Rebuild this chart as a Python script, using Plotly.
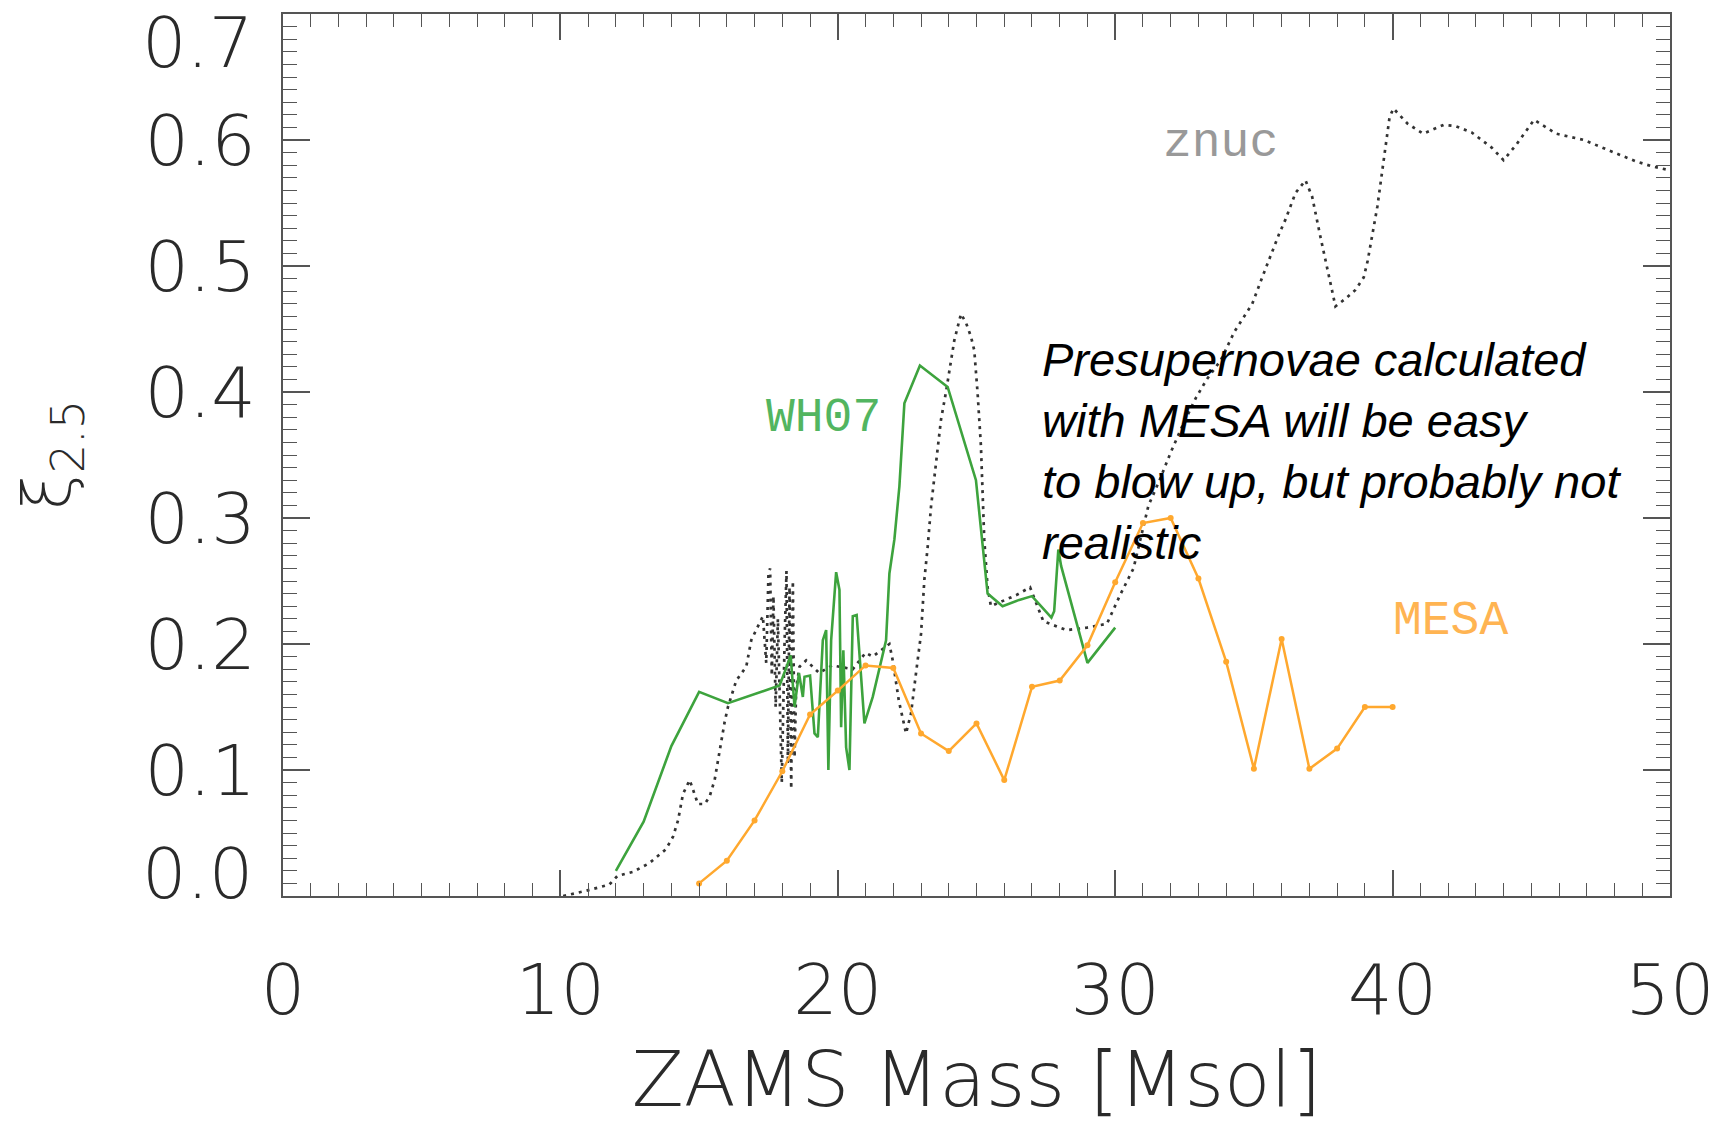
import plotly.graph_objects as go

# ---------------- data ----------------
mesa_mass = [15, 16, 17, 18, 19, 20, 21, 22, 23, 24, 25, 26, 27, 28, 29, 30,
             31, 32, 33, 34, 35, 36, 37, 38, 39, 40]
mesa_xi = [0.010, 0.028, 0.060, 0.099, 0.144, 0.163, 0.183, 0.181, 0.129, 0.115,
           0.137, 0.092, 0.166, 0.171, 0.199, 0.249, 0.296, 0.300, 0.252, 0.186,
           0.101, 0.204, 0.101, 0.117, 0.150, 0.150]

wh07_mass = [12.0, 13.0, 14.0, 15.0, 16.04, 17.9, 18.14, 18.3, 18.44, 18.6, 18.74,
             18.8, 19.0, 19.16, 19.28, 19.46, 19.58, 19.66, 19.76, 19.94, 20.06,
             20.12, 20.2, 20.3, 20.42, 20.54, 20.68, 20.96, 21.26, 21.56, 21.74,
             21.86, 22.04, 22.22, 22.4, 22.96, 23.96, 24.98, 25.1, 25.4, 25.94,
             26.54, 27.0, 27.7, 27.8, 27.95, 28.05, 29.0, 30.0]
wh07_xi = [0.020, 0.059, 0.119, 0.162, 0.153, 0.167, 0.181, 0.191, 0.150, 0.177, 0.158,
           0.174, 0.175, 0.129, 0.126, 0.203, 0.211, 0.100, 0.203, 0.257, 0.243,
           0.134, 0.195, 0.118, 0.100, 0.222, 0.223, 0.137, 0.158, 0.185, 0.203,
           0.256, 0.283, 0.325, 0.391, 0.421, 0.404, 0.330, 0.304, 0.240, 0.230,
           0.235, 0.238, 0.221, 0.226, 0.275, 0.262, 0.185, 0.213]

znuc_mass = [10.1, 10.9, 11.76, 12.06, 12.6, 13.2, 13.8, 14.06, 14.24, 14.42, 14.66,
             14.84, 14.96, 15.2, 15.38, 15.56, 15.74, 15.92, 16.04, 16.2, 16.34,
             16.7, 16.88, 17.12, 17.3, 17.42, 17.5, 17.56, 17.62, 17.68, 17.76,
             17.84, 17.92, 17.98, 18.08, 18.15, 18.2, 18.26, 18.32, 18.38, 18.44,
             18.5, 18.62, 18.86, 19.33, 19.8, 20.54, 21.0, 21.26, 21.86, 21.98,
             22.2, 22.46, 22.64, 22.82, 23.0, 23.12, 23.24, 23.36, 23.54, 23.72,
             23.9, 24.08, 24.2, 24.44, 24.62, 24.8, 24.92, 25.04, 25.16, 25.28,
             25.4, 25.52, 26.45, 26.93, 27.41, 28.25, 28.98, 29.7, 30.18, 30.66,
             31.2, 31.6, 32.0, 32.4, 32.9, 33.3, 33.8, 34.3, 34.64, 34.94, 35.3,
             35.54, 35.9, 36.14, 36.5, 36.86, 37.1, 37.4, 37.64, 37.94, 38.3,
             38.66, 38.96, 39.1, 39.45, 39.67, 39.89, 40.03, 40.54, 41.1, 41.84,
             42.27, 42.85, 43.57, 44.0, 44.45, 45.1, 45.9, 46.9, 47.77, 48.78,
             49.36, 50.0]
znuc_xi = [0.000, 0.004, 0.009, 0.016, 0.019, 0.026, 0.037, 0.047, 0.060, 0.081, 0.092,
           0.081, 0.073, 0.073, 0.079, 0.092, 0.116, 0.138, 0.150, 0.161, 0.171,
           0.182, 0.203, 0.214, 0.222, 0.185, 0.255, 0.260, 0.175, 0.238, 0.150,
           0.220, 0.140, 0.090, 0.200, 0.258, 0.105, 0.245, 0.085, 0.250, 0.110,
           0.165, 0.182, 0.187, 0.177, 0.183, 0.180, 0.193, 0.190, 0.200, 0.187,
           0.155, 0.129, 0.145, 0.177, 0.208, 0.251, 0.277, 0.309, 0.346, 0.378,
           0.400, 0.425, 0.441, 0.462, 0.455, 0.444, 0.433, 0.399, 0.357, 0.283,
           0.245, 0.230, 0.239, 0.245, 0.218, 0.211, 0.213, 0.216, 0.239, 0.260,
           0.310, 0.330, 0.352, 0.372, 0.395, 0.410, 0.425, 0.448, 0.460, 0.470, 0.491,
           0.505, 0.525, 0.537, 0.558, 0.568, 0.555, 0.523, 0.498, 0.468, 0.474,
           0.481, 0.491, 0.504, 0.547, 0.582, 0.618, 0.625, 0.613, 0.605, 0.612,
           0.611, 0.606, 0.594, 0.584, 0.596, 0.616, 0.605, 0.600, 0.592, 0.583,
           0.579, 0.576]

x_ticks = [0, 10, 20, 30, 40, 50]
y_ticks = [0.0, 0.1, 0.2, 0.3, 0.4, 0.5, 0.6, 0.7]
y_tick_labels = ["0.0", "0.1", "0.2", "0.3", "0.4", "0.5", "0.6", "0.7"]

# ---------------- styles ----------------
SANS = "DejaVu Sans, sans-serif"
TICKFONT = dict(family=SANS, size=70, color="#2a2a2a", weight=200)
AXCOL = "#555555"
GREEN = "#3da33d"
ORANGE = "#ffa82e"

fig = go.Figure()

fig.add_trace(go.Scatter(
    x=znuc_mass, y=znuc_xi, mode="lines", name="znuc",
    line=dict(color="#333333", width=2.7, dash="3px,5px"),
))
fig.add_trace(go.Scatter(
    x=wh07_mass, y=wh07_xi, mode="lines", name="WH07",
    line=dict(color=GREEN, width=2.6),
))
fig.add_trace(go.Scatter(
    x=mesa_mass, y=mesa_xi, mode="lines+markers", name="MESA",
    line=dict(color=ORANGE, width=2.5),
    marker=dict(color=ORANGE, size=6, symbol="circle"),
))

fig.update_layout(
    width=1729, height=1124,
    margin=dict(l=283, r=59, t=14, b=228),
    paper_bgcolor="white", plot_bgcolor="white",
    showlegend=False,
    xaxis=dict(
        range=[0, 50], tickvals=x_ticks, ticktext=[str(v) for v in x_ticks],
        ticks="inside", ticklen=26, tickwidth=1.6, tickcolor=AXCOL,
        minor=dict(dtick=1, ticks="inside", ticklen=13, tickwidth=1.3, tickcolor=AXCOL),
        mirror="ticks", showline=True, linecolor=AXCOL, linewidth=2.2,
        showgrid=False, zeroline=False, automargin=False,
        tickfont=TICKFONT, ticklabelstandoff=32,
        title=dict(text="ZAMS Mass [Msol]",
                   font=dict(family=SANS, size=76, color="#2a2a2a", weight=200),
                   standoff=24),
    ),
    yaxis=dict(
        range=[0, 0.7], tickvals=y_ticks[1:-1], ticktext=y_tick_labels[1:-1],
        ticks="inside", ticklen=27, tickwidth=1.6, tickcolor=AXCOL,
        minor=dict(dtick=0.01, ticks="inside", ticklen=14, tickwidth=1.3, tickcolor=AXCOL),
        mirror="ticks", showline=True, linecolor=AXCOL, linewidth=2.2,
        showgrid=False, zeroline=False, automargin=False,
        tickfont=TICKFONT, ticklabelstandoff=11,
        title=dict(text="ξ<sub>2.5</sub>",
                   font=dict(family=SANS, size=66, color="#2a2a2a", weight=200),
                   standoff=52),
    ),
)

# end labels of the y axis (nudged inward as in the reference)
fig.add_annotation(x=-0.0205, xref="paper", y=0.0175, yref="y", text=y_tick_labels[0],
                   showarrow=False, xanchor="right", yanchor="middle", font=TICKFONT)
fig.add_annotation(x=-0.0205, xref="paper", y=1.0, yref="paper", text=y_tick_labels[-1],
                   showarrow=False, xanchor="right", yanchor="top", yshift=14,
                   font=TICKFONT)

MONO = "Liberation Mono, Courier New, monospace"
fig.add_annotation(x=33.8, y=0.598, text="znuc", showarrow=False,
                   font=dict(family=MONO, size=48, color="#999999"))
fig.add_annotation(x=19.5, y=0.379, text="WH07", showarrow=False,
                   font=dict(family=MONO, size=48, color="#52b560"))
fig.add_annotation(x=42.1, y=0.218, text="MESA", showarrow=False,
                   font=dict(family=MONO, size=48, color="#ffb452"))

fig.add_annotation(
    x=27.3, y=0.353, xanchor="left", yanchor="middle", align="left", showarrow=False,
    text="Presupernovae calculated<br>with MESA will be easy<br>to blow up, but probably not<br>realistic",
    font=dict(family="Liberation Sans, Arial, sans-serif", size=47, color="black", style="italic"),
)

fig.write_html("out.html")
